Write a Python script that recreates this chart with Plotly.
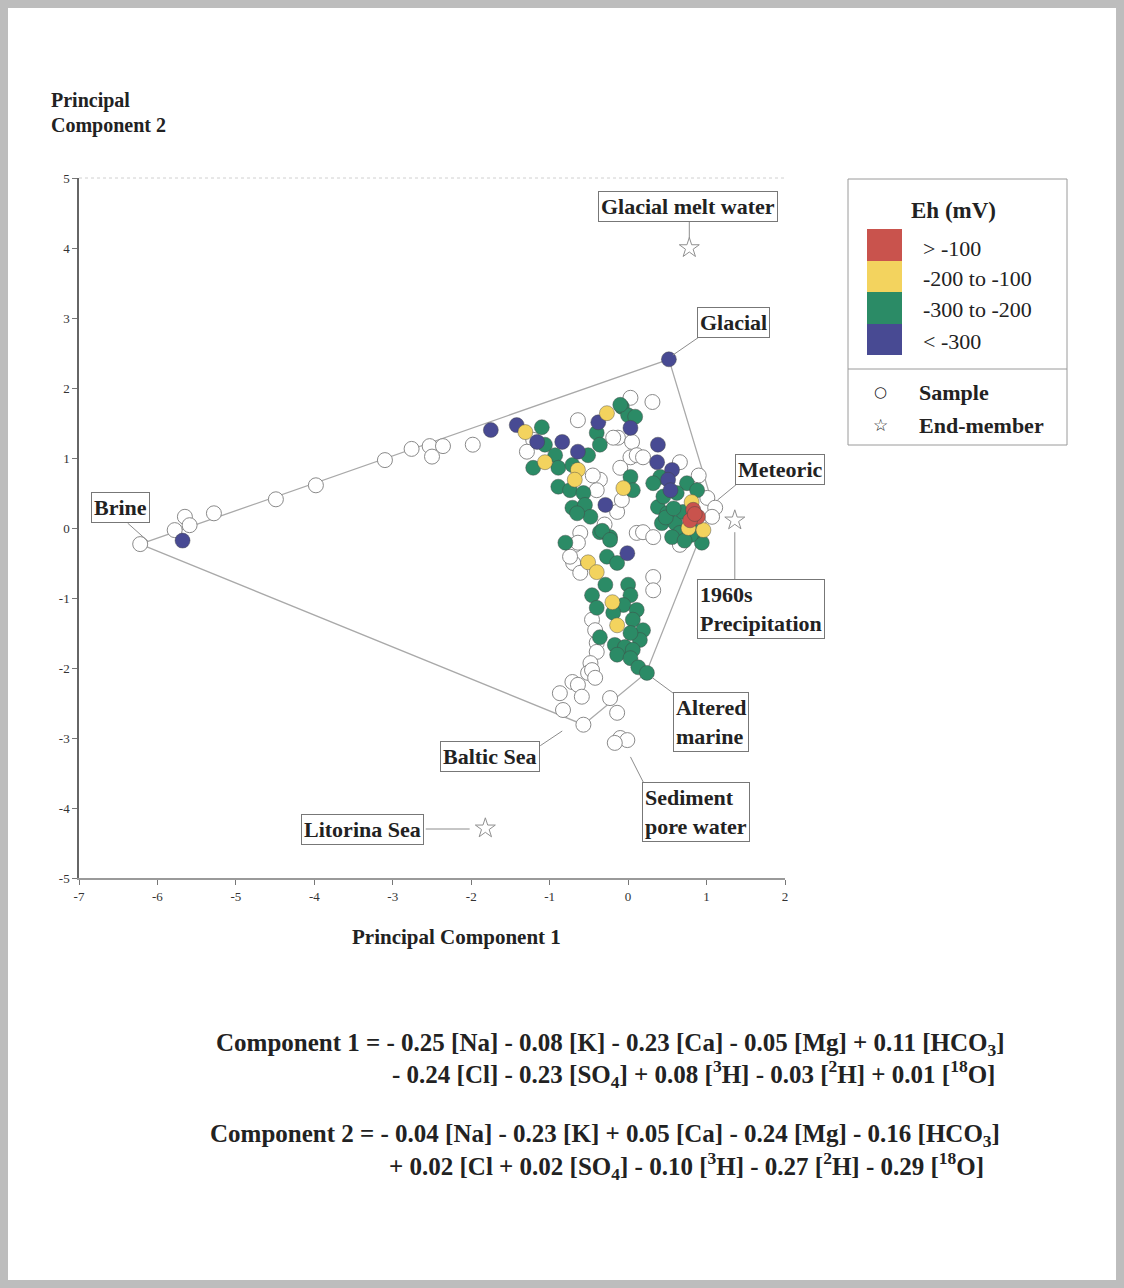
import plotly.graph_objects as go

# ---------------- data ----------------
# Open circles: samples without Eh measurement
white_x = [-6.22, -5.78, -5.65, -5.59, -5.28, -4.49, -3.98, -3.10, -2.76, -2.53, -2.50, -2.36, -1.98,
           -1.21, -1.29, -0.36, -0.40, -0.14, -0.61, -0.68, -0.64, 0.03, -0.13, 0.03, -0.08, 0.11,
           0.31, -0.19, 0.05, 0.11, 0.19, 0.66, 1.01, 1.11, 1.07, 0.66, 0.19, 0.32, -0.10,
           -0.64, -0.70, -0.61, 0.32, 0.32, -0.74, 0.90, -0.45, -0.30,
           -0.40, -0.46, -0.42, -0.40, -0.48, -0.51, -0.71, -0.64, -0.87, -0.59, -0.83, -0.57,
           -0.46, -0.42, -0.23, -0.14, -0.10, -0.01, -0.17]
white_y = [-0.23, -0.03, 0.16, 0.04, 0.21, 0.41, 0.61, 0.97, 1.13, 1.17, 1.02, 1.17, 1.19,
           1.26, 1.09, 0.69, 0.54, 0.23, -0.07, -0.24, 1.54, 1.86, 1.29, 1.01, 0.40, -0.07,
           1.80, 1.29, 1.23, 1.04, 1.01, 0.94, 0.43, 0.29, 0.16, -0.24, -0.06, -0.13, 0.86,
           -0.21, -0.50, -0.64, -0.70, -0.89, -0.41, 0.75, 0.75, 0.05,
           -1.64, -1.31, -1.46, -1.77, -1.93, -2.07, -2.20, -2.24, -2.36, -2.41, -2.60, -2.81,
           -2.03, -2.14, -2.43, -2.64, -3.00, -3.03, -3.07]

green_x = [-1.10, -1.06, -0.93, -1.21, -0.89, -0.51, -0.71, -0.89, -0.74, -0.57, -0.71, -0.55, -0.48,
           -0.65, -0.36, -0.23, -0.80, -0.40, -0.36, -0.08, 0.00, 0.03, 0.06, -0.10, 0.09,
           0.41, 0.32, 0.75, 0.88, 0.38, 0.50, 0.43, 0.60, 0.66, 0.56, 0.70, 0.94,
           0.62, 0.48, 0.85, 0.58, 0.45, 0.80, 0.72,
           -0.33, -0.23, -0.27, -0.14, -0.29, -0.46, -0.40, 0.00, 0.03, -0.06, 0.11, 0.06, -0.19,
           0.19, 0.15, 0.03, -0.36, -0.17, -0.04, 0.06, -0.14, 0.03, 0.13, 0.24]
green_y = [1.44, 1.19, 1.04, 0.86, 0.86, 1.04, 0.90, 0.59, 0.54, 0.50, 0.29, 0.33, 0.16,
           0.21, -0.06, -0.13, -0.21, 1.36, 1.19, 1.73, 1.61, 0.73, 0.54, 1.76, 1.59,
           0.73, 0.64, 0.64, 0.54, 0.30, 0.21, 0.07, 0.07, -0.07, -0.13, 0.23, -0.21,
           0.50, 0.15, -0.05, 0.28, 0.45, -0.10, -0.18,
           -0.04, -0.17, -0.41, -0.50, -0.81, -0.96, -1.14, -0.81, -0.96, -1.10, -1.17, -1.31, -1.21,
           -1.46, -1.60, -1.50, -1.56, -1.67, -1.70, -1.74, -1.81, -1.86, -1.99, -2.07]

yellow_x = [-1.31, -1.06, -0.64, -0.68, -0.27, -0.06, 0.81, 0.77, 0.96, -0.51, -0.40, -0.20, -0.14]
yellow_y = [1.37, 0.94, 0.83, 0.69, 1.64, 0.57, 0.37, 0.00, -0.03, -0.49, -0.63, -1.06, -1.39]

blue_x = [-5.68, -1.75, 0.52, -1.42, -1.16, -0.84, -0.64, -0.29, -0.38, 0.03, 0.38, 0.37, 0.56, 0.51, 0.54, -0.01]
blue_y = [-0.18, 1.40, 2.41, 1.47, 1.23, 1.23, 1.09, 0.33, 1.51, 1.43, 1.19, 0.94, 0.83, 0.69, 0.54, -0.36]

red_x = [0.83, 0.89, 0.79, 0.85]
red_y = [0.26, 0.16, 0.11, 0.20]

# Mixing polygon: Brine -> Glacial -> Meteoric -> Altered marine -> Baltic Sea -> Brine
mix_x = [-6.22, 0.52, 1.08, 0.23, -0.57, -6.22]
mix_y = [-0.23, 2.41, 0.33, -2.07, -2.81, -0.23]

# End-member stars: Glacial melt water, 1960s precipitation, Litorina Sea
star_x = [0.78, 1.36, -1.82]
star_y = [4.00, 0.11, -4.29]

# Labelled end-members: text, label centre, leader line
label_text = ["Glacial melt water", "Glacial", "Meteoric", "Brine", "1960s<br>Precipitation",
              "Altered<br>marine", "Baltic Sea", "Sediment<br>pore water", "Litorina Sea"]
label_x = [0.765, 1.34, 1.94, -6.47, 1.70, 1.06, -1.76, 0.87, -3.38]
label_y = [4.60, 2.94, 0.84, 0.29, -1.16, -2.77, -3.26, -4.06, -4.30]
lead_x0 = [0.78, 0.92, 1.40, -6.38, 1.36, 0.66, -1.12, 0.22, -2.58]
lead_y0 = [4.39, 2.74, 0.64, 0.07, -0.06, -2.43, -3.11, -3.69, -4.30]
lead_x1 = [0.78, 0.57, 1.14, -6.12, 1.36, 0.31, -0.84, 0.03, -2.02]
lead_y1 = [4.14, 2.47, 0.40, -0.19, -0.77, -2.14, -2.90, -3.27, -4.30]

x_ticks = [-7, -6, -5, -4, -3, -2, -1, 0, 1, 2]
y_ticks = [-5, -4, -3, -2, -1, 0, 1, 2, 3, 4, 5]

eh_labels = ["&gt; -100", "-200 to -100", "-300 to -200", "&lt; -300"]
eh_colors = ["#c9534d", "#f3d35e", "#2b8b66", "#484a93"]

# ---------------- figure ----------------
SERIF = "Liberation Serif, Times New Roman, serif"
INK = "#222222"
fig = go.Figure()

fig.add_trace(go.Scatter(x=mix_x, y=mix_y, mode="lines",
                         line=dict(color="#a9a9a9", width=1.3), hoverinfo="skip", showlegend=False))

pt_line = dict(color="rgba(70,70,70,0.55)", width=0.8)
fig.add_trace(go.Scatter(x=white_x, y=white_y, mode="markers", showlegend=False,
                         marker=dict(size=15, color="white", line=dict(color="#8a8a8a", width=1))))
fig.add_trace(go.Scatter(x=green_x, y=green_y, mode="markers", showlegend=False,
                         marker=dict(size=15, color=eh_colors[2], line=pt_line)))
fig.add_trace(go.Scatter(x=blue_x, y=blue_y, mode="markers", showlegend=False,
                         marker=dict(size=15, color=eh_colors[3], line=pt_line)))
fig.add_trace(go.Scatter(x=yellow_x, y=yellow_y, mode="markers", showlegend=False,
                         marker=dict(size=15, color=eh_colors[1], line=pt_line)))
fig.add_trace(go.Scatter(x=red_x, y=red_y, mode="markers", showlegend=False,
                         marker=dict(size=15, color=eh_colors[0], line=pt_line)))
fig.add_trace(go.Scatter(x=star_x, y=star_y, mode="markers", showlegend=False,
                         marker=dict(symbol="star-open", size=15, color="#8f8f8f", line=dict(width=1))))


def px_x(p):
    return (p - 79) / 706.0


def px_y(p):
    return (878 - p) / 700.0


shapes = []
# page frame (scanned page edge)
shapes.append(dict(type="rect", xref="paper", yref="paper", x0=-0.1119, x1=1.4802, y0=-0.5857, y1=1.2543,
                   line=dict(color="#bdbdbd", width=16), layer="below"))
# faint top edge of the plot frame
shapes.append(dict(type="line", xref="paper", yref="paper", x0=0, x1=1, y0=1, y1=1,
                   line=dict(color="#d0d0d0", width=1, dash="dot"), layer="below"))
# leader lines
for a, b, c, d in zip(lead_x0, lead_y0, lead_x1, lead_y1):
    shapes.append(dict(type="line", xref="x", yref="y", x0=a, y0=b, x1=c, y1=d,
                       line=dict(color="#8c8c8c", width=1)))

# legend box
shapes.append(dict(type="rect", xref="paper", yref="paper", x0=px_x(848), x1=px_x(1067),
                   y0=px_y(445), y1=px_y(179), line=dict(color="#9a9a9a", width=1), fillcolor="white"))
shapes.append(dict(type="line", xref="paper", yref="paper", x0=px_x(848), x1=px_x(1067),
                   y0=px_y(369), y1=px_y(369), line=dict(color="#9a9a9a", width=1)))
sw_top = [229, 261, 292, 324]
sw_bot = [261, 292, 324, 355]
for c, t, b in zip(eh_colors, sw_top, sw_bot):
    shapes.append(dict(type="rect", xref="paper", yref="paper", x0=px_x(867), x1=px_x(902),
                       y0=px_y(b), y1=px_y(t), line=dict(width=0), fillcolor=c))


def note(x, y, text, size, xanchor="center", family=SERIF):
    return dict(x=px_x(x), y=px_y(y), xref="paper", yref="paper", text=text, showarrow=False,
                xanchor=xanchor, yanchor="middle", font=dict(family=family, size=size, color=INK))


annotations = []
for t, x, y in zip(label_text, label_x, label_y):
    annotations.append(dict(x=x, y=y, xref="x", yref="y", text="<b>" + t + "</b>", showarrow=False,
                            xanchor="center", yanchor="middle",
                            font=dict(family=SERIF, size=22, color=INK), bgcolor="white",
                            bordercolor="#777", borderwidth=1, borderpad=2, align="left"))

annotations.append(note(953, 210, "<b>Eh (mV)</b>", 23))
lab_y = [248, 278, 309, 341]
for t, y in zip(eh_labels, lab_y):
    annotations.append(note(921, y, t, 22, xanchor="left"))
annotations.append(note(880, 392, "○", 15, family="DejaVu Sans"))
annotations.append(note(880, 425, "☆", 17, family="DejaVu Sans"))
annotations.append(note(917, 392, "<b>Sample</b>", 22, xanchor="left"))
annotations.append(note(917, 425, "<b>End-member</b>", 22, xanchor="left"))

# axis titles
annotations.append(note(49, 101, "<b>Principal</b>", 20, xanchor="left"))
annotations.append(note(49, 125, "<b>Component 2</b>", 20, xanchor="left"))
annotations.append(note(456, 937, "<b>Principal Component 1</b>", 21))

# equations
eq1a = "<b>Component 1 = - 0.25 [Na] - 0.08 [K] - 0.23 [Ca] - 0.05 [Mg] + 0.11 [HCO<sub>3</sub>]</b>"
eq1b = "<b>- 0.24 [Cl] - 0.23 [SO<sub>4</sub>] + 0.08 [<sup>3</sup>H] - 0.03 [<sup>2</sup>H] + 0.01 [<sup>18</sup>O]</b>"
eq2a = "<b>Component 2 = - 0.04 [Na] - 0.23 [K] + 0.05 [Ca] - 0.24 [Mg] - 0.16 [HCO<sub>3</sub>]</b>"
eq2b = "<b>+ 0.02 [Cl + 0.02 [SO<sub>4</sub>] - 0.10 [<sup>3</sup>H] - 0.27 [<sup>2</sup>H] - 0.29 [<sup>18</sup>O]</b>"
for t, x, y in [(eq1a, 214, 1044), (eq1b, 390, 1074), (eq2a, 208, 1135), (eq2b, 387, 1166)]:
    annotations.append(note(x, y, t, 25, xanchor="left"))

fig.update_layout(
    width=1124, height=1288,
    margin=dict(l=79, r=339, t=178, b=410),
    paper_bgcolor="white", plot_bgcolor="white",
    shapes=shapes, annotations=annotations,
    xaxis=dict(range=[-7, 2], tickvals=x_ticks, ticktext=[str(v) for v in x_ticks],
               showgrid=False, zeroline=False, showline=True, linecolor="#9a9a9a", linewidth=2,
               ticks="outside", ticklen=5, tickcolor="#777",
               tickfont=dict(family=SERIF, size=13, color="#333")),
    yaxis=dict(range=[-5, 5], tickvals=y_ticks, ticktext=[str(v) for v in y_ticks],
               showgrid=False, zeroline=False, showline=True, linecolor="#666", linewidth=1.5,
               ticks="outside", ticklen=5, tickcolor="#777",
               tickfont=dict(family=SERIF, size=13, color="#333")),
)

fig.write_html("out.html")
